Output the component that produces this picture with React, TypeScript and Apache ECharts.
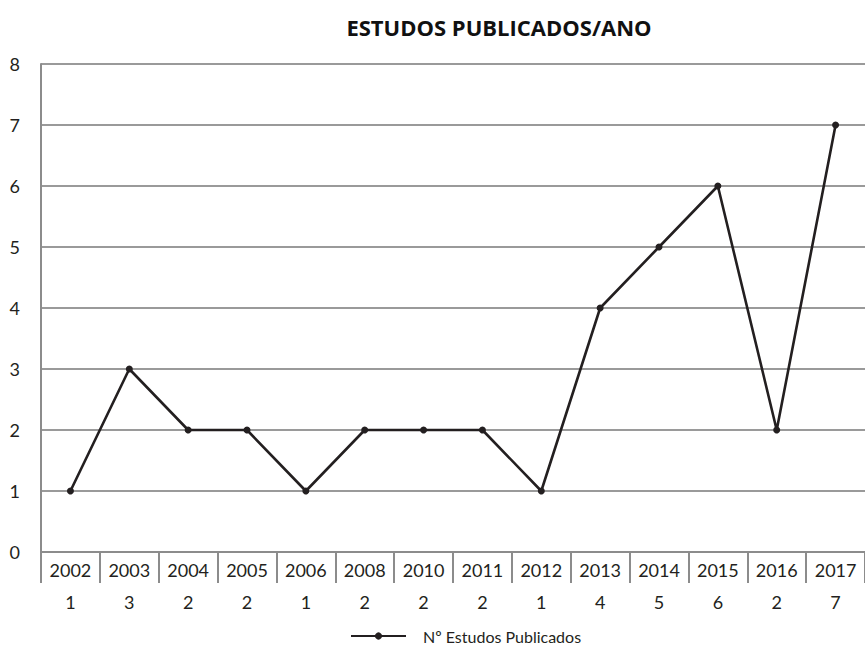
import React, { useEffect, useRef } from "react";
import * as echarts from "echarts";

const years = ["2002", "2003", "2004", "2005", "2006", "2008", "2010", "2011", "2012", "2013", "2014", "2015", "2016", "2017"];
const counts = [1, 3, 2, 2, 1, 2, 2, 2, 1, 4, 5, 6, 2, 7];
const seriesName = "Nº Estudos Publicados";
const title = "ESTUDOS PUBLICADOS/ANO";

export default function App() {
  const ref = useRef<HTMLDivElement>(null);
  useEffect(() => {
    if (!ref.current) return;
    const chart = echarts.init(ref.current, null, { renderer: "svg" });
    const titleFont = "'Open Sans', sans-serif";
    const font = "Lato, 'Open Sans', sans-serif";
    chart.setOption({
      animation: false,
      backgroundColor: "#ffffff",
      title: {
        text: title,
        left: 494,
        textAlign: "center",
        top: 11,
        textStyle: { fontFamily: titleFont, fontWeight: "bold", fontSize: 22, color: "#111" },
      },
      legend: {
        bottom: 2,
        left: 350,
        padding: 0,
        itemWidth: 55,
        itemHeight: 9,
        textStyle: { fontFamily: font, fontSize: 16, color: "#231f20", padding: [0, 0, 0, 12] },
        data: [seriesName],
      },
      grid: { left: 41, right: -6, top: 64, bottom: 94, containLabel: false },
      xAxis: {
        type: "category",
        data: years,
        boundaryGap: true,
        axisLine: { lineStyle: { color: "#8c8c8c", width: 2 } },
        axisTick: { show: true, interval: 0, length: 31, lineStyle: { color: "#8c8c8c", width: 2 } },
        axisLabel: {
          interval: 0,
          margin: 2,
          formatter: (v: string, i: number) => `{y|${v}}\n{v|${counts[i]}}`,
          rich: {
            y: { fontFamily: font, fontSize: 18, color: "#231f20", lineHeight: 32 },
            v: { fontFamily: font, fontSize: 18, color: "#231f20", lineHeight: 32 },
          },
        },
      },
      yAxis: {
        type: "value",
        min: 0,
        max: 8,
        interval: 1,
        axisLine: { show: true, lineStyle: { color: "#8c8c8c", width: 2 } },
        axisTick: { show: false },
        axisLabel: { margin: 21, fontFamily: font, fontSize: 18, color: "#231f20" },
        splitLine: { lineStyle: { color: "#9a9a9a", width: 2 } },
      },
      series: [
        {
          name: seriesName,
          type: "line",
          data: counts,
          symbol: "circle",
          symbolSize: 7,
          lineStyle: { color: "#231f20", width: 2.6 },
          itemStyle: { color: "#231f20" },
        },
      ],
    });
    return () => chart.dispose();
  }, []);
  return (
    <div
      ref={ref}
      style={{ position: "fixed", left: 0, top: 0, width: 865, height: 646, background: "#fff" }}
    />
  );
}
